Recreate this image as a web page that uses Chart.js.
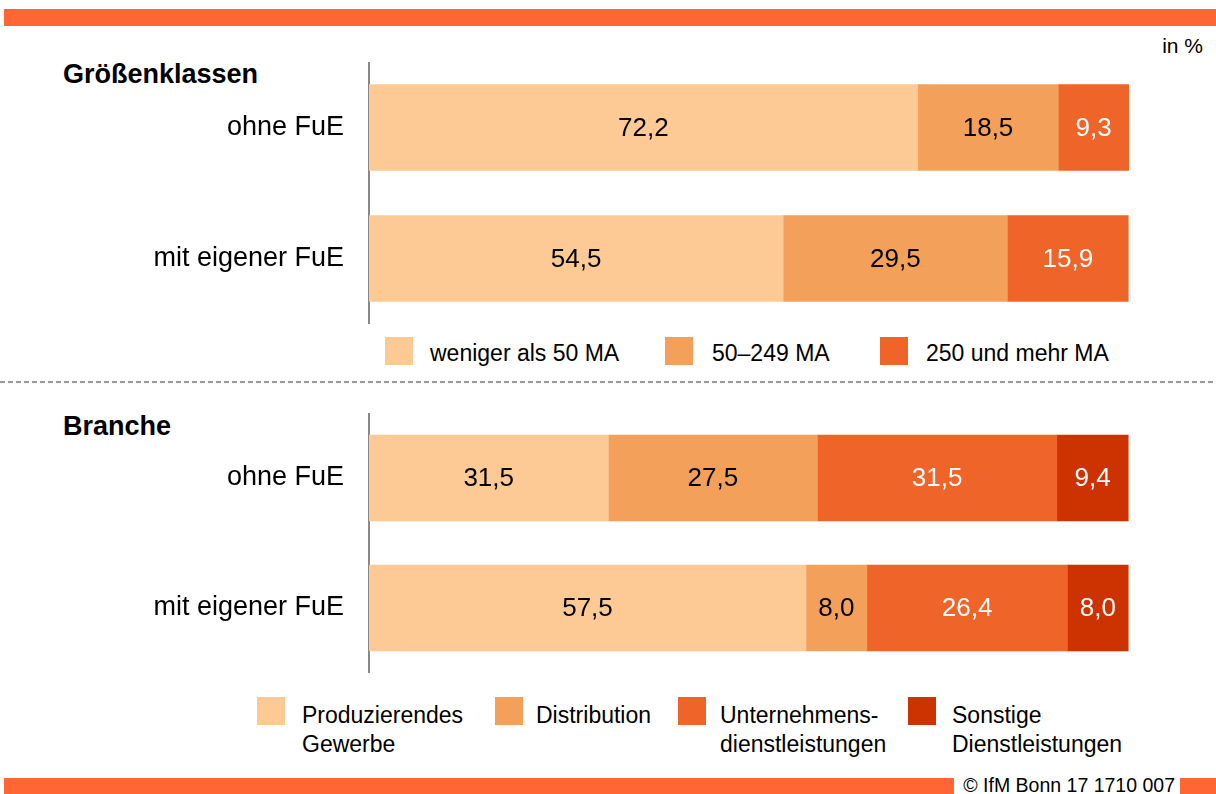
<!DOCTYPE html>
<html>
<head>
<meta charset="utf-8">
<script src="https://cdn.jsdelivr.net/npm/chart.js@4.4.0/dist/chart.umd.min.js"></script>
<style>
  body { margin: 0; width: 1216px; height: 794px; position: relative; background: #fff; font-family: "Liberation Sans", Arial, sans-serif; overflow: hidden; }
  .bar { position: absolute; background: #FF6633; }
  .abs { position: absolute; white-space: nowrap; color: #000; line-height: 1; }
  .title { font-weight: bold; font-size: 27px; }
  .sq { position: absolute; width: 28px; height: 28px; }
  .lt { position: absolute; font-size: 23px; line-height: 29px; white-space: nowrap; }
  .wrap { position: absolute; left: 0; width: 1216px; }
</style>
</head>
<body>
<div class="bar" style="left:4px;top:9px;width:1212px;height:17px"></div>
<div class="abs" style="right:13px;top:35px;font-size:21px">in %</div>
<div class="abs title" style="left:63px;top:61px">Größenklassen</div>
<div class="abs title" style="left:63px;top:413px">Branche</div>

<div style="position:absolute;left:0;top:381px;width:1216px;height:1.5px;background:repeating-linear-gradient(90deg,#999 0 5px,transparent 5px 8px)"></div>

<div class="wrap" style="top:62px;height:262px"><canvas id="chartSize" width="1216" height="262"></canvas></div>
<div class="wrap" style="top:413px;height:260px"><canvas id="chartBranch" width="1216" height="260"></canvas></div>

<div id="legendSize"></div>
<div id="legendBranch"></div>

<div class="bar" style="left:4px;top:778px;width:950px;height:16px"></div>
<div class="bar" style="left:1180px;top:778px;width:36px;height:16px"></div>
<div class="abs" style="right:41px;top:776px;font-size:19.5px">© IfM Bonn 17 1710 007</div>

<script>
// categories
var rows = ["ohne FuE", "mit eigener FuE"];

// Größenklassen
var sizeLabels = ["weniger als 50 MA", "50–249 MA", "250 und mehr MA"];
var sizeSmall = [72.2, 54.5];
var sizeMedium = [18.5, 29.5];
var sizeLarge = [9.3, 15.9];

// Branche
var branchLabels = ["Produzierendes\nGewerbe", "Distribution", "Unternehmens-\ndienstleistungen", "Sonstige\nDienstleistungen"];
var branchProd = [31.5, 57.5];
var branchDist = [27.5, 8.0];
var branchUnt = [31.5, 26.4];
var branchSonst = [9.4, 8.0];

var colors = ["#FDC994", "#F3A15A", "#EF6428", "#CC3300"];
var textColors = ["#000", "#000", "#fff", "#fff"];

// draw the value in the middle of each bar piece
const valueLabels = {
  id: "valueLabels",
  afterDatasetsDraw(chart) {
    const ctx = chart.ctx;
    ctx.save();
    ctx.font = "26px 'Liberation Sans', Arial, sans-serif";
    ctx.textAlign = "center";
    ctx.textBaseline = "middle";
    chart.data.datasets.forEach((ds, i) => {
      chart.getDatasetMeta(i).data.forEach((bar, j) => {
        const x = (bar.x + bar.base) / 2;
        ctx.fillStyle = ds.labelColor;
        ctx.fillText(ds.data[j].toFixed(1).replace(".", ","), x, bar.y + 1);
      });
    });
    ctx.restore();
  },
};

function makeChart(id, series) {
  const ctx = document.getElementById(id).getContext("2d");
  return new Chart(ctx, {
    type: "bar",
    data: {
      labels: rows,
      datasets: series.map((s) => ({
        label: s.label,
        data: s.data,
        backgroundColor: colors[s.c],
        labelColor: textColors[s.c],
        borderWidth: 0,
        barThickness: 86,
      })),
    },
    options: {
      indexAxis: "y",
      responsive: false,
      animation: false,
      devicePixelRatio: 1,
      layout: { padding: 0 },
      plugins: { legend: { display: false }, tooltip: { enabled: false } },
      scales: {
        x: { stacked: true, min: 0, max: 100, display: false },
        y: {
          stacked: true,
          grid: { display: false, drawTicks: false },
          border: { display: true, color: "#888", width: 2 },
          ticks: { color: "#000", padding: 25, font: { size: 27, family: "'Liberation Sans', Arial, sans-serif" } },
          afterFit(axis) {
            // fixed axis width, no extra room above/below the bars
            axis.width = 369;
            axis.paddingTop = 0;
            axis.paddingBottom = 0;
          },
        },
      },
    },
    plugins: [valueLabels, { id: "rightGap", beforeLayout(chart) { chart.options.layout.padding = { left: 0, right: 87, top: 0, bottom: 0 }; } }],
  });
}

makeChart("chartSize", [
  { label: sizeLabels[0], data: sizeSmall, c: 0 },
  { label: sizeLabels[1], data: sizeMedium, c: 1 },
  { label: sizeLabels[2], data: sizeLarge, c: 2 },
]);

makeChart("chartBranch", [
  { label: branchLabels[0], data: branchProd, c: 0 },
  { label: branchLabels[1], data: branchDist, c: 1 },
  { label: branchLabels[2], data: branchUnt, c: 2 },
  { label: branchLabels[3], data: branchSonst, c: 3 },
]);

// legends
function buildLegend(el, labels, sqX, textX, sqTop, textTop) {
  labels.forEach((l, i) => {
    const sq = document.createElement("div");
    sq.className = "sq";
    sq.style.left = sqX[i] + "px";
    sq.style.top = sqTop + "px";
    sq.style.background = colors[i];
    el.appendChild(sq);
    const t = document.createElement("div");
    t.className = "lt";
    t.style.left = textX[i] + "px";
    t.style.top = textTop + "px";
    t.innerHTML = l.replace("\n", "<br>");
    el.appendChild(t);
  });
}
buildLegend(document.getElementById("legendSize"), sizeLabels, [385, 665, 880], [430, 712, 926], 337, 339);
buildLegend(document.getElementById("legendBranch"), branchLabels, [257, 495, 678, 908], [302, 536, 720, 952], 697, 701);
</script>
</body>
</html>
